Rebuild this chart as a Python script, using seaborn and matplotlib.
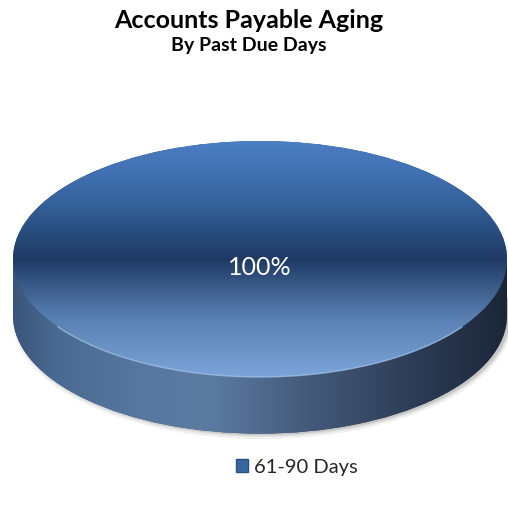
import numpy as np
import matplotlib
matplotlib.use("Agg")
import matplotlib.pyplot as plt
from matplotlib.patches import Rectangle, Patch, Arc
from matplotlib.colors import LinearSegmentedColormap
import seaborn as sns

# chart data
categories = ["61-90 Days"]
values = [100]
title = "Accounts Payable Aging"
subtitle = "By Past Due Days"

sns.set_theme(style="white")
plt.rcParams["font.family"] = ["Lato", "DejaVu Sans"]

fig = plt.figure(figsize=(5.08, 5.05), dpi=100)
ax = fig.add_axes([0, 0, 1, 1])

depth = 0.48  # thickness of the disc (in radius units, vertical)

# shading for the top face (bottom -> top) and for the side wall (left -> right)
top_cmap = sns.blend_palette(["#7ca4d8", "#5a80b2", "#1e3a64", "#36649e", "#4c7ec4"], as_cmap=True)
side_cmap = LinearSegmentedColormap.from_list(
    "side", [(0.0, "#3a557a"), (0.08, "#4a6990"), (0.25, "#56779f"), (0.4, "#5b7ba1"),
             (0.6, "#44597a"), (0.8, "#2e3e58"), (1.0, "#1c2638")])

# soft shadow under the disc
for k, a in [(0.035, 0.06), (0.02, 0.08), (0.01, 0.1)]:
    ax.pie(values, radius=1 + k * 0.3, center=(0.01, -depth - k), startangle=90,
           colors=["#000000"], wedgeprops=dict(linewidth=0, alpha=a, zorder=0), frame=False)

# base of the disc
base, _ = ax.pie(values, radius=1, center=(0, -depth), startangle=90,
                 colors=["#3a5478"], wedgeprops=dict(linewidth=0, zorder=1), frame=False)
wall = Rectangle((-1, -depth), 2, depth, transform=ax.transData)
grad_h = np.linspace(0, 1, 256).reshape(1, -1)
for clip in (base[0], wall):
    im = ax.imshow(grad_h, cmap=side_cmap, extent=(-1, 1, -depth - 1, 0),
                   aspect="auto", zorder=1, interpolation="bilinear")
    im.set_clip_path(clip)

# top face
top, texts, autotexts = ax.pie(values, radius=1, center=(0, 0), startangle=90,
                               colors=["#2b4f80"], autopct="%1.0f%%", pctdistance=0.07,
                               wedgeprops=dict(linewidth=0, zorder=2), frame=False)
grad_v = np.linspace(0, 1, 256).reshape(-1, 1)
im = ax.imshow(grad_v, cmap=top_cmap, extent=(-1, 1, -1, 1), origin="lower",
               aspect="auto", zorder=3, interpolation="bilinear")
im.set_clip_path(top[0])
ax.add_patch(Arc((0, 0), 2, 2, theta1=215, theta2=325, color="#a8c8f0",
                 lw=1.0, alpha=0.7, zorder=4))
for t in autotexts:
    t.set_color("white")
    t.set_fontsize(18)
    t.set_zorder(5)

ax.set_aspect("auto")
ax.set_xlim(-260 / 247, 248 / 247)
ax.set_ylim(-246 / 118, 259 / 118)
ax.axis("off")

fig.text(249 / 508, 1 - 20 / 505, title, ha="center", va="center",
         fontsize=18, fontweight="bold", color="black")
fig.text(249 / 508, 1 - 45 / 505, subtitle, ha="center", va="center",
         fontsize=14, fontweight="bold", color="black")

handles = [Patch(facecolor="#3a66a0", edgecolor="#2b4f80", label=c) for c in categories]
fig.legend(handles=handles, loc="center", bbox_to_anchor=(297 / 508, 1 - 467 / 505),
           frameon=False, fontsize=14.5, handlelength=0.6, handleheight=0.6,
           handletextpad=0.3)

fig.savefig("out.png", dpi=100)
